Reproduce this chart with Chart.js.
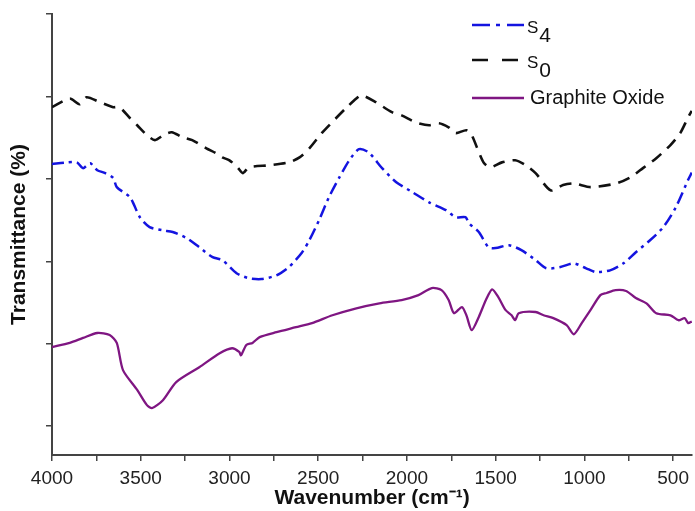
<!DOCTYPE html>
<html>
<head>
<meta charset="utf-8">
<title>FTIR spectra</title>
<script src="https://cdn.jsdelivr.net/npm/chart.js@4.4.1/dist/chart.umd.min.js"></script>
<style>
  html, body { margin: 0; padding: 0; background: #fff; }
  #wrap { width: 695px; height: 511px; }
</style>
</head>
<body>
<div id="wrap"><canvas id="ftir" width="695" height="511"></canvas></div>
<script>
// Spectra: wavenumber (cm-1) and transmittance (arbitrary offset units)
var s4Wave = [4000, 3915, 3860, 3825, 3785, 3745, 3700, 3655, 3635, 3560, 3505, 3450, 3375, 3320, 3240,
  3170, 3095, 3040, 2960, 2890, 2820, 2735, 2665, 2590, 2550, 2495, 2440, 2380, 2325, 2270, 2215, 2140,
  2060, 1970, 1875, 1780, 1725, 1670, 1650, 1595, 1540, 1500, 1425, 1355, 1275, 1215, 1135, 1060, 990,
  935, 855, 780, 710, 630, 555, 485, 416, 395];
var s4Value = [70.6, 71.0, 71.0, 69.6, 70.8, 69.1, 68.4, 67.2, 65.0, 62.5, 57.7, 55.3, 54.5, 54.1, 52.6,
  50.4, 48.0, 47.3, 44.1, 42.9, 42.7, 43.6, 45.6, 49.2, 52.1, 57.0, 62.5, 67.4, 71.5, 74.2, 73.4, 69.6,
  66.2, 63.8, 61.3, 59.4, 57.7, 57.7, 56.2, 54.1, 50.4, 50.2, 50.9, 49.7, 47.3, 45.3, 45.6, 46.5, 45.3,
  44.4, 44.8, 46.5, 49.2, 52.1, 55.3, 60.1, 66.7, 68.5];

var s0Wave = [4000, 3900, 3845, 3805, 3730, 3655, 3620, 3560, 3520, 3465, 3420, 3365, 3325, 3265, 3210,
  3130, 3075, 3040, 3000, 2955, 2925, 2890, 2775, 2665, 2605, 2550, 2480, 2400, 2345, 2285, 2255, 2175,
  2085, 2030, 1950, 1875, 1820, 1765, 1725, 1665, 1635, 1595, 1565, 1530, 1465, 1390, 1330, 1275, 1190,
  1120, 1060, 965, 820, 740, 670, 595, 515, 460, 416, 395];
var s0Value = [84.4, 86.5, 85.1, 86.8, 85.6, 84.4, 84.4, 81.7, 80.0, 77.6, 76.4, 77.8, 78.3, 77.1, 76.4,
  74.4, 73.2, 72.2, 71.5, 69.8, 68.4, 69.8, 70.3, 71.0, 72.2, 74.4, 78.1, 81.7, 84.1, 86.5, 87.3, 85.6,
  83.2, 82.4, 80.7, 80.0, 80.5, 79.5, 78.1, 78.8, 77.6, 73.5, 70.8, 69.8, 71.0, 71.5, 70.3, 68.4, 64.2,
  65.5, 65.9, 65.0, 65.9, 67.4, 69.6, 72.0, 75.2, 78.1, 81.9, 83.5];

var goWave = [4000, 3900, 3825, 3745, 3675, 3635, 3600, 3520, 3465, 3435, 3375, 3300, 3170, 3055, 2985,
  2945, 2935, 2905, 2870, 2830, 2735, 2625, 2535, 2420, 2285, 2155, 2030, 1935, 1860, 1805, 1765, 1735,
  1690, 1665, 1635, 1595, 1555, 1520, 1485, 1445, 1410, 1390, 1370, 1275, 1230, 1175, 1100, 1060, 1015,
  965, 910, 875, 825, 765, 710, 650, 595, 515, 470, 435, 415, 395];
var goValue = [26.2, 27.2, 28.4, 29.6, 29.1, 27.2, 20.6, 15.8, 12.1, 11.4, 13.3, 17.7, 21.3, 24.7, 25.9,
  25.0, 24.2, 26.7, 27.2, 28.6, 29.8, 31.0, 32.0, 33.9, 35.6, 36.8, 37.6, 38.8, 40.5, 40.0, 37.6, 34.4,
  35.9, 33.9, 30.3, 33.5, 37.6, 40.2, 38.3, 35.2, 33.9, 32.7, 34.4, 34.7, 33.9, 33.2, 31.5, 29.3, 32.0,
  35.2, 38.8, 39.3, 40.0, 39.8, 38.1, 36.8, 34.4, 33.9, 32.7, 33.2, 32.0, 32.4];

var seriesMain = ['S', 'S', 'Graphite Oxide'];
var seriesSub = ['4', '0', ''];

var xTickValues = [4000, 3750, 3500, 3250, 3000, 2750, 2500, 2250, 2000, 1750, 1500, 1250, 1000, 750, 500];
var yTickValues = [7, 27, 47, 67, 87, 107];

var FONT = '"Liberation Sans", Arial, sans-serif';

function toPoints(xs, ys) {
  return xs.map(function (x, i) { return { x: x, y: ys[i] }; });
}

// legend drawn inside the plot, top right
var insetLegend = {
  id: 'insetLegend',
  afterDraw: function (chart, args, opts) {
    var ctx = chart.ctx;
    chart.data.datasets.forEach(function (ds, i) {
      var y = opts.rows[i];
      ctx.save();
      ctx.strokeStyle = ds.borderColor;
      ctx.lineWidth = ds.borderWidth;
      ctx.setLineDash(opts.dashes[i]);
      ctx.beginPath();
      ctx.moveTo(opts.x0, y);
      ctx.lineTo(opts.x1, y);
      ctx.stroke();
      ctx.setLineDash([]);
      ctx.fillStyle = '#111';
      ctx.textBaseline = 'alphabetic';
      if (seriesSub[i]) {
        ctx.font = '17px ' + FONT;
        ctx.fillText(seriesMain[i], opts.textX, y + 8);
        var w = ctx.measureText(seriesMain[i]).width;
        ctx.font = '21px ' + FONT;
        ctx.fillText(seriesSub[i], opts.textX + w + 1, y + 17);
      } else {
        ctx.font = '20px ' + FONT;
        ctx.fillText(seriesMain[i], opts.textX + 3, y + 6);
      }
      ctx.restore();
    });
  }
};

var ctx = document.getElementById('ftir');
var chart = new Chart(ctx, {
  type: 'line',
  data: {
    datasets: [{
      label: 'S4',
      data: toPoints(s4Wave, s4Value),
      borderColor: '#1414e0',
      borderWidth: 2.5,
      borderDash: [12, 5, 3, 5]
    }, {
      label: 'S0',
      data: toPoints(s0Wave, s0Value),
      borderColor: '#111111',
      borderWidth: 2.6,
      borderDash: [12, 8]
    }, {
      label: 'Graphite Oxide',
      data: toPoints(goWave, goValue),
      borderColor: '#7f1682',
      borderWidth: 2.3
    }]
  },
  options: {
    responsive: false,
    animation: false,
    layout: { padding: { top: 14, right: 1, left: 0, bottom: 0 } },
    elements: {
      point: { radius: 0 },
      line: { tension: 0.25, fill: false }
    },
    plugins: {
      legend: { display: false },
      tooltip: { enabled: false },
      insetLegend: {
        x0: 472, x1: 524, textX: 527,
        rows: [25, 60, 98],
        dashes: [[18, 6, 4, 7], [16, 14], []]
      }
    },
    scales: {
      x: {
        type: 'linear',
        reverse: true,
        min: 393,
        max: 4000,
        afterBuildTicks: function (scale) {
          scale.ticks = xTickValues.map(function (v) { return { value: v }; });
        },
        afterFit: function (scale) { scale.height = 56; },
        ticks: {
          autoSkip: false,
          maxRotation: 0,
          padding: 6,
          color: '#222',
          font: { family: FONT, size: 19 },
          callback: function (v) { return v % 500 === 0 ? String(v) : ''; }
        },
        grid: { drawOnChartArea: false, drawTicks: true, tickLength: 6, color: '#444', lineWidth: 1.5 },
        border: { display: true, color: '#444', width: 2 },
        title: {
          display: true,
          text: 'Wavenumber (cm\u207B\u00B9)',
          color: '#111',
          font: { family: FONT, size: 21, weight: 'bold' },
          padding: { top: -3, bottom: 0 }
        }
      },
      y: {
        type: 'linear',
        min: 0,
        max: 107,
        afterBuildTicks: function (scale) {
          scale.ticks = yTickValues.map(function (v) { return { value: v }; });
        },
        afterFit: function (scale) { scale.width = 52; },
        ticks: { callback: function () { return ''; } },
        grid: { drawOnChartArea: false, drawTicks: true, tickLength: 6, color: '#444', lineWidth: 1.5 },
        border: { display: true, color: '#444', width: 2 },
        title: {
          display: true,
          text: 'Transmittance (%)',
          color: '#111',
          font: { family: FONT, size: 21, weight: 'bold' },
          padding: { top: 7, bottom: 0 }
        }
      }
    }
  },
  plugins: [insetLegend]
});
</script>
</body>
</html>
